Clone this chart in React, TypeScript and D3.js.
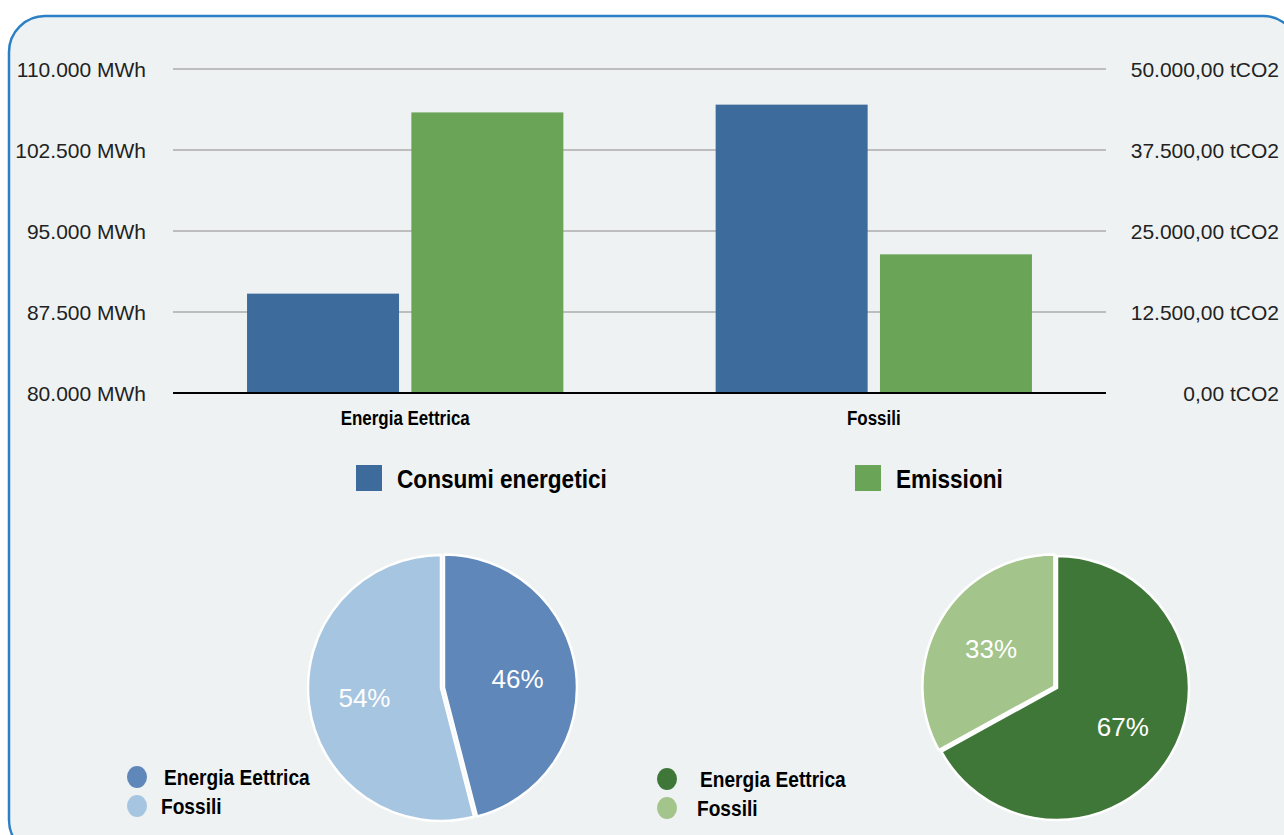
import * as d3 from 'd3';

const categories = ['Energia Eettrica', 'Fossili'];
const series = ['Consumi energetici', 'Emissioni'];
const consumiMWh = [89200, 106700];
const emissioniTCO2 = [43300, 21400];
const leftTicks = [80000, 87500, 95000, 102500, 110000];
const rightTicks = [0, 12500, 25000, 37500, 50000];
const pieConsumiPct = [46, 54];
const pieEmissioniPct = [67, 33];

const W = 1284;
const H = 835;
const BG = '#eef2f3';
const BAR_COLORS = ['#3d6b9c', '#6aa457'];
const PIE_BLUE = ['#5f87b9', '#a6c5e0'];
const PIE_GREEN = ['#3f7739', '#a3c48b'];
const SANS = "'Liberation Sans', Arial, sans-serif";

const it = d3.formatLocale({ decimal: ',', thousands: '.', grouping: [3], currency: ['', ''] });
const fmtMWh = (v: number) => `${it.format(',.0f')(v)} MWh`;
const fmtT = (v: number) => `${it.format(',.2f')(v)} tCO2`;

const plot = { left: 173, right: 1106, top: 69, bottom: 393 };

// bold condensed text: Liberation Sans Bold squeezed horizontally
function Narrow({ x, y, size, anchor = 'start', children }: {
  x: number; y: number; size: number; anchor?: 'start' | 'middle' | 'end'; children: string;
}) {
  return (
    <text transform={`translate(${x},${y}) scale(0.87,1)`} dy="0.36em" textAnchor={anchor} fill="#000"
      style={{ fontFamily: SANS, fontWeight: 700, fontSize: size }}>{children}</text>
  );
}

function Pie({ cx, cy, r, values, colors, legendX, legendY, textX }: {
  cx: number; cy: number; r: number; values: number[]; colors: string[];
  legendX: number; legendY: number; textX: number;
}) {
  const arcs = d3.pie<number>().sort(null)(values);
  const arc = d3.arc<d3.PieArcDatum<number>>().innerRadius(0).outerRadius(r);
  const labelArc = d3.arc<d3.PieArcDatum<number>>().innerRadius(r * 0.58).outerRadius(r * 0.58);
  const minIdx = values.indexOf(Math.min(...values));
  return (
    <g>
      <g transform={`translate(${cx},${cy})`}>
        {arcs.map((a, i) => {
          const mid = (a.startAngle + a.endAngle) / 2;
          const off = i === minIdx ? 3 : 0;
          return (
            <path key={i} d={arc(a) || ''} fill={colors[i]} stroke="#ffffff" strokeWidth={2.5}
              strokeLinejoin="round"
              transform={`translate(${Math.sin(mid) * off},${-Math.cos(mid) * off})`} />
          );
        })}
        {arcs.map((a, i) => {
          const [x, y] = labelArc.centroid(a);
          return (
            <text key={i} x={x} y={y} dy="0.36em" textAnchor="middle" fill="#ffffff"
              style={{ fontFamily: SANS, fontSize: 26 }}>{`${values[i]}%`}</text>
          );
        })}
      </g>
      {categories.map((c, i) => (
        <g key={c}>
          <ellipse cx={legendX} cy={legendY + i * 29} rx={10} ry={11} fill={colors[i]} />
          <Narrow x={textX - (i === 1 ? 3 : 0)} y={legendY + i * 29} size={22}>{c}</Narrow>
        </g>
      ))}
    </g>
  );
}

export default function App() {
  const yL = d3.scaleLinear().domain([80000, 110000]).range([plot.bottom, plot.top]);
  const yR = d3.scaleLinear().domain([0, 50000]).range([plot.bottom, plot.top]);
  const x0 = d3.scaleBand().domain(categories).range([plot.left, plot.right]).paddingInner(0.325).paddingOuter(0.158);
  const x1 = d3.scaleBand().domain(series).range([0, x0.bandwidth()]).paddingInner(0.075).paddingOuter(0);
  const vals = [consumiMWh, emissioniTCO2];
  const scales = [yL, yR];

  return (
    <svg width={W} height={H} style={{ position: 'absolute', left: 0, top: 0, display: 'block' }}>
      <rect x={0} y={0} width={W} height={H} fill="#ffffff" />
      <rect x={9} y={16} width={1290} height={840} rx={36} fill={BG} stroke="#2b80c5" strokeWidth={2.5} />

      {leftTicks.map((t) => (
        <g key={t}>
          {t !== 80000 && (
            <line x1={plot.left} x2={plot.right} y1={yL(t)} y2={yL(t)} stroke="#bdbdbd" strokeWidth={2} />
          )}
          <text x={146} y={yL(t)} dy="0.36em" textAnchor="end" fill="#222"
            style={{ fontFamily: SANS, fontSize: 21 }}>{fmtMWh(t)}</text>
        </g>
      ))}
      {rightTicks.map((t) => (
        <text key={t} x={1279} y={yR(t)} dy="0.36em" textAnchor="end" fill="#222"
          style={{ fontFamily: SANS, fontSize: 21 }}>{fmtT(t)}</text>
      ))}

      {categories.map((c, ci) => (
        <g key={c} transform={`translate(${x0(c)},0)`}>
          {series.map((s, si) => {
            const y = scales[si](vals[si][ci]);
            return (
              <rect key={s} x={x1(s)} y={y} width={x1.bandwidth()} height={plot.bottom - y} fill={BAR_COLORS[si]} />
            );
          })}
          <Narrow x={x0.bandwidth() / 2} y={418} size={19.5} anchor="middle">{c}</Narrow>
        </g>
      ))}
      <line x1={plot.left} x2={plot.right} y1={plot.bottom} y2={plot.bottom} stroke="#000" strokeWidth={2} />

      {series.map((s, i) => {
        const lx = [356, 855][i];
        return (
          <g key={s}>
            <rect x={lx} y={465} width={26} height={26} fill={BAR_COLORS[i]} />
            <Narrow x={lx + 41} y={479} size={26}>{s}</Narrow>
          </g>
        );
      })}

      <Pie cx={441} cy={688} r={133} values={pieConsumiPct} colors={PIE_BLUE} legendX={137} legendY={777} textX={164} />
      <Pie cx={1057} cy={688} r={132} values={pieEmissioniPct} colors={PIE_GREEN} legendX={667} legendY={779} textX={700} />
    </svg>
  );
}
